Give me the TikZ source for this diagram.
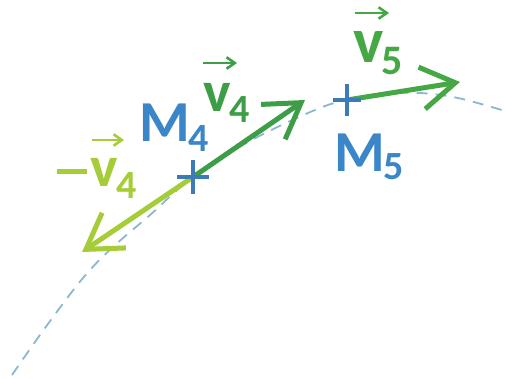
\documentclass[tikz,border=0pt]{standalone}
\usepackage{fontspec}
\setmainfont{Carlito}
\usetikzlibrary{arrows.meta}
\definecolor{mblue}{HTML}{3A86C8}
\definecolor{crossblue}{HTML}{3A7BB8}
\definecolor{vfour}{HTML}{3E9E48}
\definecolor{vfive}{HTML}{45A845}
\definecolor{lime}{HTML}{A6CC38}
\definecolor{traj}{HTML}{8AB8D0}
\begin{document}
\begin{tikzpicture}[x=1pt,y=-1pt,
  trajline/.style={traj,line width=1.8pt,dash pattern=on 11pt off 8pt},
  vecline/.style={line width=5pt,-{Straight Barb[angle=64:40pt]}},
  smallvec/.style={line width=2.6pt,-{Straight Barb[angle=70:10pt]}},
  crossmark/.style={crossblue,line width=4pt},
  lbl/.style={inner sep=0pt,anchor=base west,font=\bfseries\fontsize{58}{58}\selectfont}]
\useasboundingbox (0,0) rectangle (505,379);
% trajectory
\draw[trajline] plot[smooth,tension=0.6] coordinates {(12,375) (45,328) (83,278) (113,247) (150,215) (193,177) (250,141) (315,110) (347,100) (385,94) (420,93) (458,98) (505,111)};
% points
\coordinate (M4) at (193,177);
\coordinate (M5) at (347,100);
\coordinate (T4) at (305,100);
\coordinate (Tm4) at (82,252);
\coordinate (T5) at (460,82);
% vectors
\draw[vecline,lime] (M4) -- (Tm4);
\draw[vecline,vfour] (M4) -- (T4);
\draw[vecline,vfive] (M5) -- (T5);
% crosses
\draw[crossmark] ([xshift=-16pt]M4) -- ([xshift=16pt]M4);
\draw[crossmark] ([yshift=-17pt]M4) -- ([yshift=17pt]M4);
\draw[crossmark] ([xshift=-14pt]M5) -- ([xshift=14pt]M5);
\draw[crossmark] ([yshift=-16pt]M5) -- ([yshift=16pt]M5);
% labels
\node[lbl,text=mblue] (lM4) at (139,142) {M\kern-1pt\raisebox{-10pt}{\fontsize{40}{40}\selectfont 4}};
\node[lbl,text=mblue] (lM5) at (334,172) {M\kern-1pt\raisebox{-8pt}{\fontsize{40}{40}\selectfont 5}};
\node[lbl,text=vfour] (lv4) at (203,112) {v\kern-1pt\raisebox{-11pt}{\fontsize{40}{40}\selectfont 4}};
\node[lbl,text=lime] (lmv4) at (57,187) {\rule[13pt]{30pt}{5pt}\kern3pt v\kern-1pt\raisebox{-11pt}{\fontsize{40}{40}\selectfont 4}};
\node[lbl,text=vfive,font=\bfseries\fontsize{64}{64}\selectfont] (lv5) at (353,63) {v\kern-2pt\raisebox{-12pt}{\fontsize{42}{42}\selectfont 5}};
% vector arrows over labels
\draw[smallvec,vfour] ([shift={(0,-49)}]lv4.base west) -- ++(34,0);
\draw[smallvec,lime] ([shift={(35,-47)}]lmv4.base west) -- ++(32,0);
\draw[smallvec,vfive] ([shift={(2,-50)}]lv5.base west) -- ++(34,0);
\end{tikzpicture}
\end{document}
